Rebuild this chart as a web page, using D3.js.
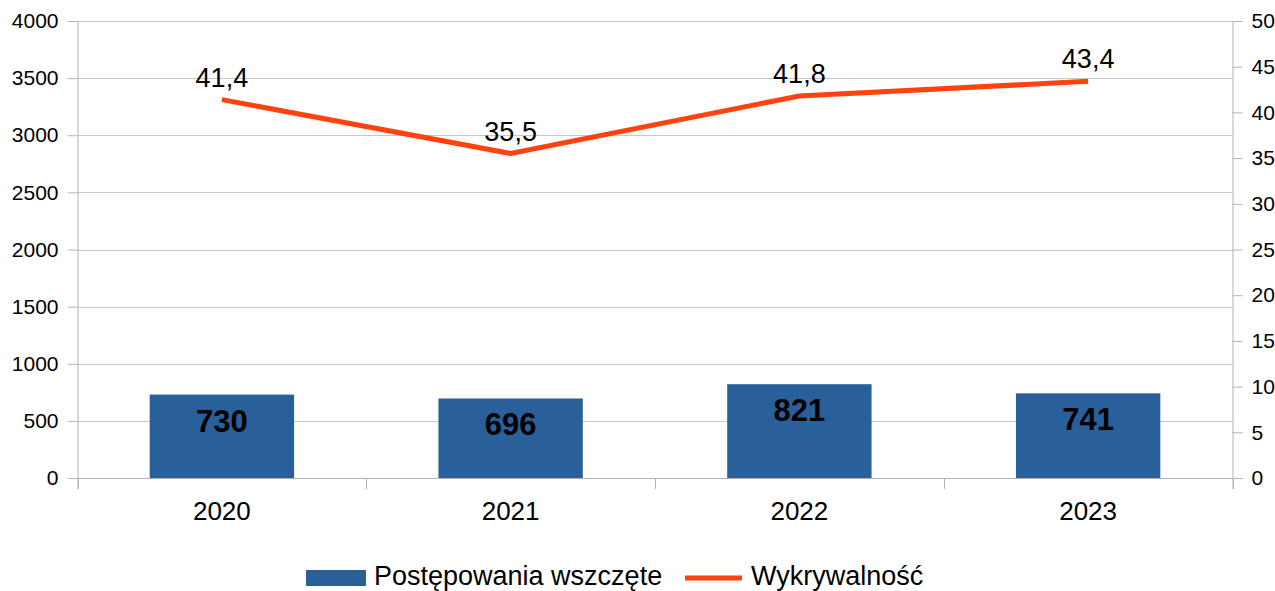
<!DOCTYPE html>
<html>
<head>
<meta charset="utf-8">
<script src="https://cdn.jsdelivr.net/npm/d3@7"></script>
<style>
  html, body { margin: 0; padding: 0; background: #fff; }
  svg { display: block; font-family: "Liberation Sans", Arial, sans-serif; }
</style>
</head>
<body>
<svg id="chart" width="1275" height="591"></svg>
<script>
const categories = ["2020", "2021", "2022", "2023"];
const barValues = [730, 696, 821, 741];
const lineValues = [41.4, 35.5, 41.8, 43.4];
const leftTicks = [0, 500, 1000, 1500, 2000, 2500, 3000, 3500, 4000];
const rightTicks = [0, 5, 10, 15, 20, 25, 30, 35, 40, 45, 50];
const seriesNames = ["Postępowania wszczęte", "Wykrywalność"];

const barColor = "#2a6099";
const lineColor = "#ff420e";
const gridColor = "#c8c8c8";
const axisColor = "#b3b3b3";
const FONT = "Liberation Sans, Arial, sans-serif";

const svg = d3.select("#chart");
const m = { left: 77.5, right: 1232.5, top: 21, bottom: 478 };

const x = d3.scaleBand().domain(categories).range([m.left, m.right]).paddingInner(0).paddingOuter(0);
const yL = d3.scaleLinear().domain([0, 4000]).range([m.bottom, m.top]);
const yR = d3.scaleLinear().domain([0, 50]).range([m.bottom, m.top]);

// gridlines
svg.append("g").selectAll("line").data(leftTicks).join("line")
  .attr("x1", m.left).attr("x2", m.right)
  .attr("y1", d => Math.round(yL(d)) + 0.5).attr("y2", d => Math.round(yL(d)) + 0.5)
  .attr("stroke", gridColor).attr("stroke-width", 1);

// left axis
const gl = svg.append("g").attr("transform", `translate(${m.left},0)`)
  .call(d3.axisLeft(yL).tickValues(leftTicks).tickSize(10).tickPadding(9).tickFormat(d3.format("d")));
gl.select(".domain").attr("stroke", axisColor).attr("d", `M0.5,${m.top}V${m.bottom + 11}`);
gl.selectAll(".tick line").attr("stroke", axisColor);
gl.selectAll(".tick text").attr("font-size", 21).attr("fill", "#000").attr("font-family", FONT);

// right axis
const gr = svg.append("g").attr("transform", `translate(${m.right},0)`)
  .call(d3.axisRight(yR).tickValues(rightTicks).tickSize(10).tickPadding(9).tickFormat(d3.format("d")));
gr.select(".domain").attr("stroke", axisColor).attr("d", `M0.5,${m.top}V${m.bottom + 11}`);
gr.selectAll(".tick line").attr("stroke", axisColor);
gr.selectAll(".tick text").attr("font-size", 21).attr("fill", "#000").attr("font-family", FONT);

// bottom axis
const gb = svg.append("g").attr("transform", `translate(0,${m.bottom})`)
  .call(d3.axisBottom(x).tickSize(0).tickPadding(24));
gb.select(".domain").attr("stroke", axisColor).attr("d", `M${m.left},0.5H${m.right}`);
gb.selectAll(".tick text").attr("font-size", 26).attr("fill", "#000").attr("font-family", FONT);
// boundary ticks between categories
const bounds = categories.map(c => x(c)).concat([x(categories[categories.length - 1]) + x.bandwidth()]);
svg.append("g").selectAll("line").data(bounds).join("line")
  .attr("x1", d => Math.round(d) + 0.5).attr("x2", d => Math.round(d) + 0.5)
  .attr("y1", m.bottom).attr("y2", m.bottom + 11)
  .attr("stroke", axisColor);

// bars
const bw = x.bandwidth() * 0.5;
svg.append("g").selectAll("rect").data(barValues).join("rect")
  .attr("x", (d, i) => x(categories[i]) + (x.bandwidth() - bw) / 2)
  .attr("y", d => yL(d))
  .attr("width", bw)
  .attr("height", d => yL(0) - yL(d))
  .attr("fill", barColor);

svg.append("g").selectAll("text").data(barValues).join("text")
  .attr("x", (d, i) => x(categories[i]) + x.bandwidth() / 2)
  .attr("y", d => yL(d) + 37)
  .attr("text-anchor", "middle")
  .attr("font-size", 31).attr("font-weight", "bold").attr("fill", "#000")
  .text(d => d);

// line
const line = d3.line()
  .x((d, i) => x(categories[i]) + x.bandwidth() / 2)
  .y(d => yR(d));
svg.append("path").datum(lineValues)
  .attr("d", line)
  .attr("fill", "none").attr("stroke", lineColor).attr("stroke-width", 5)
  .attr("stroke-linejoin", "miter");

svg.append("g").selectAll("text").data(lineValues).join("text")
  .attr("x", (d, i) => x(categories[i]) + x.bandwidth() / 2)
  .attr("y", d => yR(d) - 13)
  .attr("text-anchor", "middle")
  .attr("font-size", 27).attr("fill", "#000")
  .text(d => d3.format(".1f")(d).replace(".", ","));

// legend
const lg = svg.append("g");
lg.append("rect").attr("x", 306).attr("y", 570).attr("width", 60).attr("height", 16).attr("fill", barColor);
lg.append("text").attr("x", 374).attr("y", 585).attr("font-size", 27).attr("fill", "#000").text(seriesNames[0]);
lg.append("line").attr("x1", 685).attr("x2", 742).attr("y1", 578).attr("y2", 578)
  .attr("stroke", lineColor).attr("stroke-width", 5);
lg.append("text").attr("x", 751).attr("y", 585).attr("font-size", 27).attr("fill", "#000").text(seriesNames[1]);
</script>
</body>
</html>
